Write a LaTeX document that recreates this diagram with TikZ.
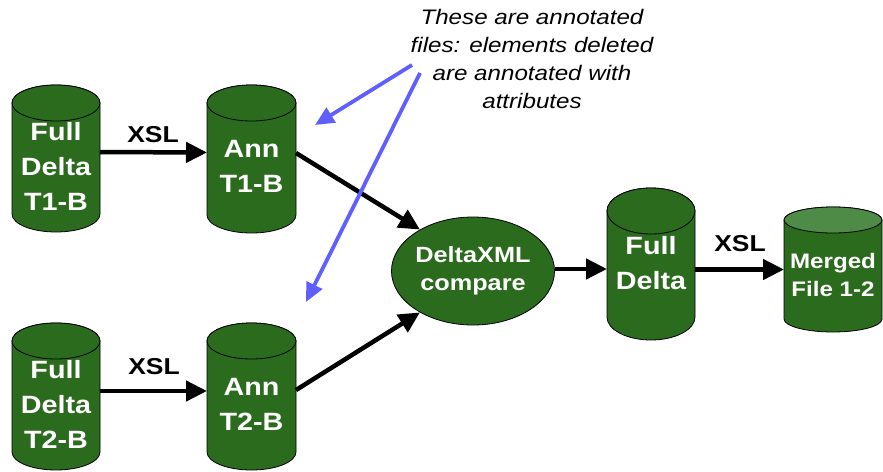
\documentclass[tikz,border=0pt]{standalone}
\usepackage{fontspec}
\setmainfont{Liberation Sans}[FakeStretch=1.15]
\usetikzlibrary{arrows.meta,shapes.geometric}
\definecolor{dg}{RGB}{43,107,30}
\definecolor{lg}{RGB}{78,139,70}
\definecolor{ab}{RGB}{95,95,255}
\tikzset{
  cylbody/.style={fill=dg, draw=black, line width=0.8pt},
  cylbox/.style={rectangle, inner sep=0pt, outer sep=0pt},
  celltext/.style={text=white, font=\bfseries\fontsize{25}{35}\selectfont, align=center, inner sep=0pt},
  smalltext/.style={text=white, font=\bfseries\fontsize{21}{28}\selectfont, align=center, inner sep=0pt},
  conn/.style={line width=4.5pt, -{Triangle[length=21pt,width=20pt]}},
  notearrow/.style={line width=3.8pt, draw=ab, -{Triangle[length=19pt,width=17pt]}},
  xsl/.style={font=\bfseries\fontsize{23}{26}\selectfont, inner sep=0pt},
  notetext/.style={font=\itshape\fontsize{21}{28}\selectfont, align=center, inner sep=0pt},
}
\newcommand\drawcyl[6]{%
  \filldraw[cylbody] (#1-#4,#2+#5) -- (#1-#4,#3-#5)
    arc[start angle=180,end angle=0,x radius=#4,y radius=#5]
    -- (#1+#4,#2+#5)
    arc[start angle=0,end angle=-180,x radius=#4,y radius=#5] -- cycle;
  \filldraw[cylbody, fill=#6] (#1,#2+#5) ellipse[x radius=#4, y radius=#5];
}
\begin{document}
\begin{tikzpicture}[x=1pt,y=-1pt]
\useasboundingbox (0,0) rectangle (883,471);

% cylinders
\drawcyl{56}{85}{232}{44}{18}{dg}
\drawcyl{251.5}{85}{233}{44.5}{18}{dg}
\drawcyl{56}{323}{470}{44}{18}{dg}
\drawcyl{251.5}{323}{470}{44.5}{18}{dg}
\drawcyl{651}{188}{340}{44}{23}{dg}
\drawcyl{833}{207}{332}{49}{13}{lg}

% named boxes of the cylinders
\node[cylbox, minimum width=88pt, minimum height=147pt] (fd1) at (56,158.5) {};
\node[cylbox, minimum width=89pt, minimum height=148pt] (ann1) at (251.5,159) {};
\node[cylbox, minimum width=88pt, minimum height=147pt] (fd2) at (56,396.5) {};
\node[cylbox, minimum width=89pt, minimum height=147pt] (ann2) at (251.5,396.5) {};
\node[cylbox, minimum width=88pt, minimum height=152pt] (fdm) at (651,264) {};
\node[cylbox, minimum width=98pt, minimum height=125pt] (mrg) at (833,269.5) {};

% texts in cylinders
\node[celltext] (fd1t) at (56,166) {Full\\Delta\\T1-B};
\node[celltext] (ann1t) at (251.5,166) {Ann\\T1-B};
\node[celltext] (fd2t) at (56,404) {Full\\Delta\\T2-B};
\node[celltext] (ann2t) at (251.5,404.5) {Ann\\T2-B};
\node[celltext] (fdmt) at (651,263.5) {Full\\Delta};
\node[smalltext] (mrgt) at (833,275) {Merged\\File 1-2};

% compare ellipse
\node[ellipse, fill=dg, draw=black, line width=0.8pt, minimum width=160pt, minimum height=108pt, inner sep=0pt,
      text=white, font=\bfseries\fontsize{22}{28}\selectfont, align=center] (cmp) at (473,271) {DeltaXML\\compare};

% connectors
\draw[conn] ([yshift=6.5pt]fd1.east) -- ([yshift=6.5pt]ann1.west);
\draw[conn] ([yshift=5.5pt]fd2.east) -- ([yshift=5.5pt]ann2.west);
\draw[conn] ([yshift=6pt]ann1.east) -- (cmp.142);
\draw[conn] ([yshift=6.5pt]ann2.east) -- (cmp.218);
\coordinate (c1) at ([yshift=2pt]cmp.east);
\draw[conn] (c1) -- (c1 -| fdm.west);
\draw[conn] (mrg.west -| fdm.east) -- (mrg.west);

% XSL labels
\node[xsl] (x1) at (153,135) {XSL};
\node[xsl] (x2) at (154,367) {XSL};
\node[xsl] (x3) at (740,243.5) {XSL};

% annotation
\node[notetext] (note) at (532,59) {These are annotated\\files: elements deleted\\are annotated with\\attributes};
\coordinate (n1) at (412,65);
\coordinate (n2) at (420,73);
\coordinate (p1) at (315,125);
\coordinate (p2) at (306,302);
\draw[notearrow] (n1) -- (p1);
\draw[notearrow] (n2) -- (p2);
\end{tikzpicture}
\end{document}
